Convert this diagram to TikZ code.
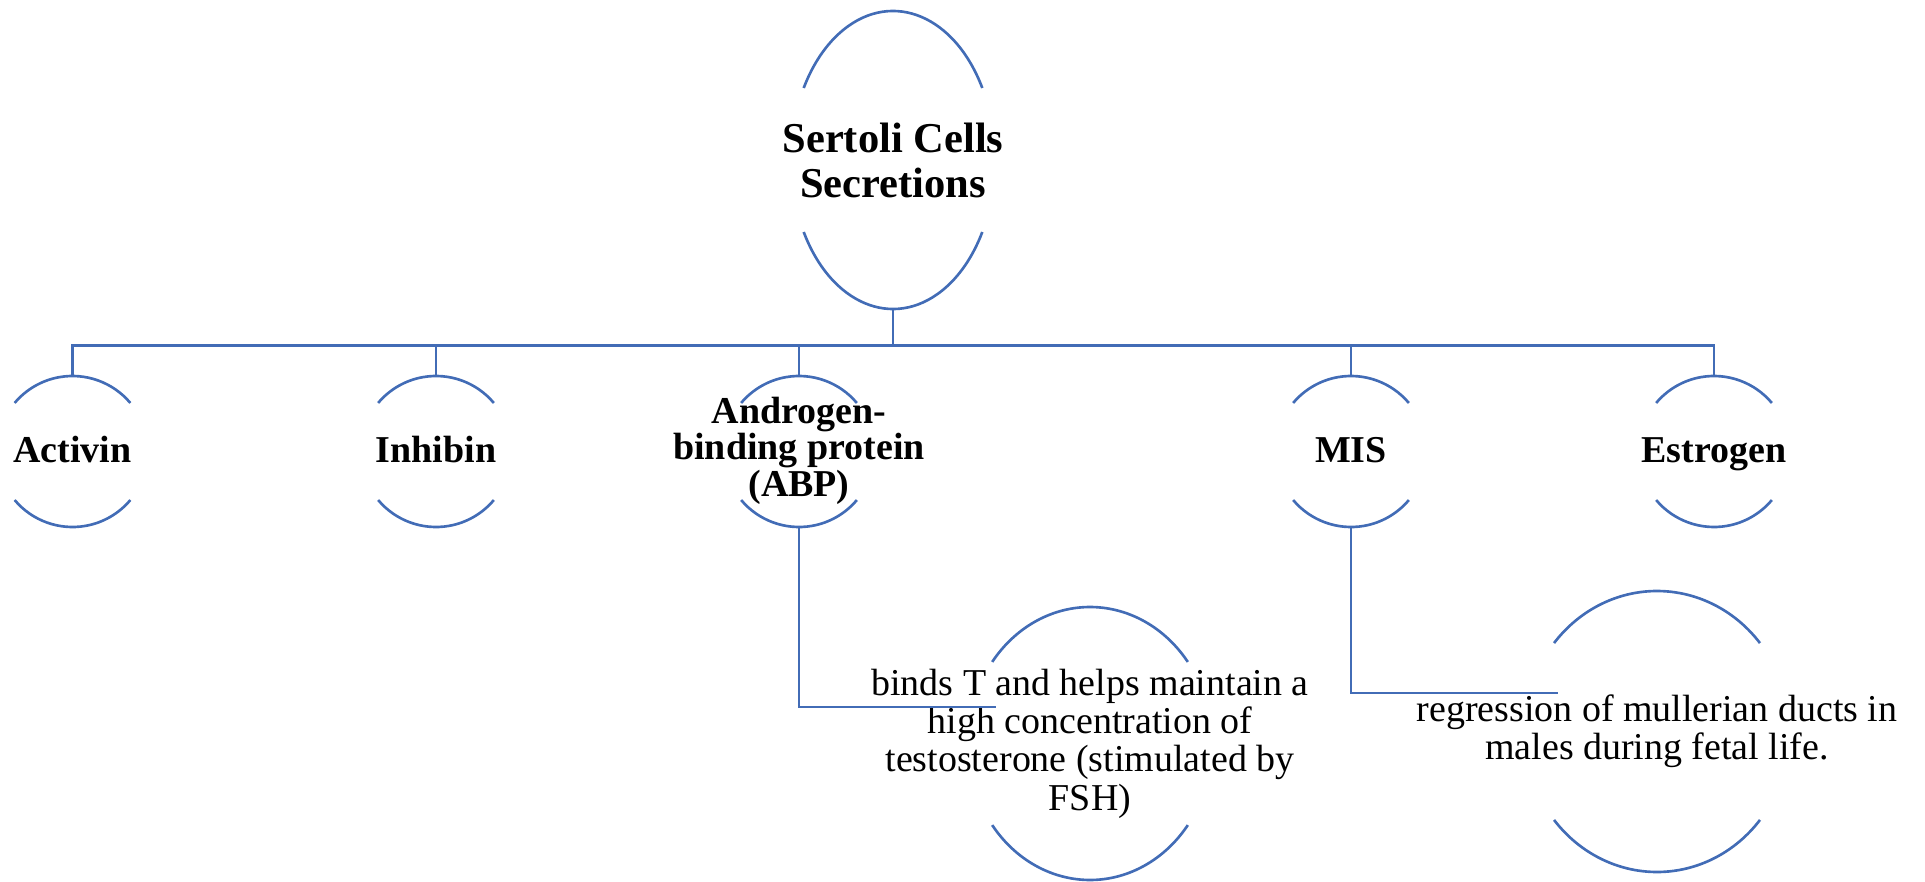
\documentclass[tikz,border=0pt]{standalone}
\usepackage{fontspec}
\setmainfont{Liberation Serif}
\usetikzlibrary{shapes.geometric,calc}
\definecolor{lnblue}{RGB}{66,108,182}
\newcommand{\ovarcs}[5]{% name, rx, ry, angle, 180-angle
  \draw[lnk] ([shift={(#4:#2 and #3)}]#1.center) arc[start angle=#4, end angle=#5, x radius=#2, y radius=#3];
  \draw[lnk] ([shift={(-#5:#2 and #3)}]#1.center) arc[start angle=-#5, end angle=-#4, x radius=#2, y radius=#3];
}
\begin{document}
\begin{tikzpicture}[
  lnk/.style={draw=lnblue, line width=1.5pt},
  oval/.style={ellipse, draw=none, inner sep=0pt},
  topoval/.style={oval, minimum width=4.08cm, minimum height=5.96cm},
  smalloval/.style={oval, minimum width=3.02cm, minimum height=3.02cm},
  headtxt/.style={align=center, font=\fontsize{24.2}{25.6}\selectfont\bfseries, inner sep=0pt},
  itemtxt/.style={align=center, font=\fontsize{21.6}{20.8}\selectfont\bfseries, inner sep=0pt},
  itemone/.style={font=\fontsize{21.6}{20.8}\selectfont\bfseries, inner sep=0pt, anchor=base},
  desctxt/.style={align=center, font=\fontsize{21.6}{21.8}\selectfont, inner sep=0pt}
]
\useasboundingbox (0,0) rectangle (38.5,-17.64);

% shapes (invisible ellipses used as anchors)
\node[topoval] (top) at (17.86,-3.2) {};
\node[smalloval] (act) at (1.45,-9.03) {};
\node[smalloval] (inh) at (8.72,-9.03) {};
\node[smalloval] (abp) at (15.98,-9.03) {};
\node[smalloval] (mis) at (27.02,-9.03) {};
\node[smalloval] (est) at (34.28,-9.03) {};
\node[oval, minimum width=4.88cm, minimum height=5.46cm] (d1) at (21.8,-14.87) {};
\node[oval, minimum width=5.3cm, minimum height=5.62cm] (d2) at (33.14,-14.63) {};

% arcs
\ovarcs{top}{2.04cm}{2.98cm}{28.9}{151.1}
\ovarcs{act}{1.51cm}{1.51cm}{40}{140}
\ovarcs{inh}{1.51cm}{1.51cm}{40}{140}
\ovarcs{abp}{1.51cm}{1.51cm}{40}{140}
\ovarcs{mis}{1.51cm}{1.51cm}{40}{140}
\ovarcs{est}{1.51cm}{1.51cm}{40}{140}
\ovarcs{d1}{2.44cm}{2.73cm}{36.7}{143.3}
\ovarcs{d2}{2.65cm}{2.81cm}{39}{141}

% texts
\node[headtxt] (toptxt) at (top.center) {Sertoli Cells\\Secretions};
\node[itemone] (acttxt) at ($(act.center)+(0,-0.21)$) {Activin};
\node[itemone] (inhtxt) at ($(inh.center)+(0,-0.21)$) {Inhibin};
\node[itemtxt] (abptxt) at ($(abp.center)+(0,0.02)$) {Androgen-\\binding protein\\(ABP)};
\node[itemone] (mistxt) at ($(mis.center)+(0,-0.21)$) {MIS};
\node[itemone] (esttxt) at ($(est.center)+(0,-0.21)$) {Estrogen};
\node[desctxt] (d1txt) at (d1.center) {binds T and helps maintain a\\high concentration of\\testosterone (stimulated by\\FSH)};
\node[desctxt] (d2txt) at (d2.center) {regression of mullerian ducts in\\males during fetal life.};

% connectors
\draw[lnk] (top.south) -- ++(0,-0.72) -| (act.north);
\draw[lnk] (top.south) -- ++(0,-0.72) -| (inh.north);
\draw[lnk] (top.south) -- ++(0,-0.72) -| (abp.north);
\draw[lnk] (top.south) -- ++(0,-0.72) -| (mis.north);
\draw[lnk] (top.south) -- ++(0,-0.72) -| (est.north);

\coordinate (c1) at ($(d1.center)+(-1.88,0.73)$);
\coordinate (c2) at ($(d2.center)+(-1.98,0.77)$);
\draw[lnk] (abp.south) |- (c1);
\draw[lnk] (mis.south) |- (c2);
\end{tikzpicture}
\end{document}
